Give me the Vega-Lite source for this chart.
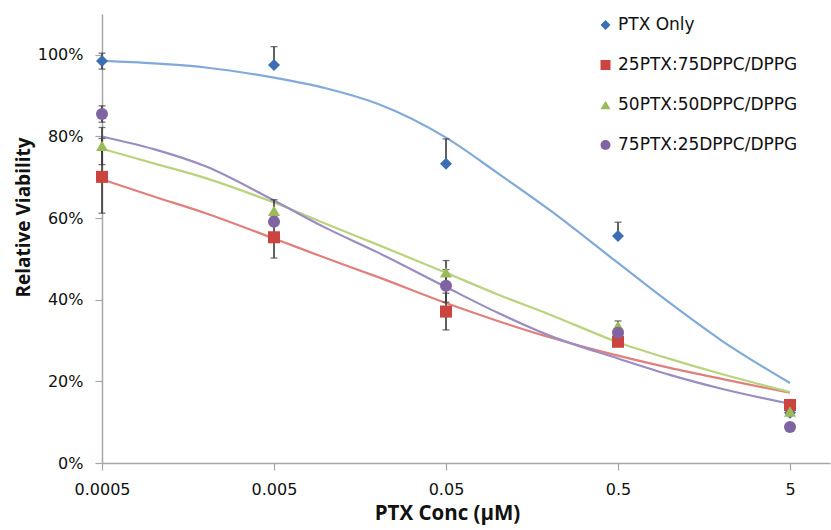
{
  "$schema": "https://vega.github.io/schema/vega-lite/v6.json",
  "width": 728,
  "height": 449,
  "autosize": "none",
  "padding": {"left": 102, "top": 14, "right": 1, "bottom": 67},
  "background": "white",
  "config": {
    "view": {"stroke": null},
    "font": "DejaVu Sans",
    "axis": {"grid": false, "domainColor": "#a6a6a6", "domainWidth": 1.5, "tickColor": "#a6a6a6", "tickWidth": 1.2, "tickSize": 7, "labelColor": "#111", "labelFontSize": 16, "labelFont": "DejaVu Sans", "titleFont": "Open Sans", "titleFontWeight": "bold", "titleColor": "#111"}
  },
  "datasets": {
    "pts": [
      {"series": "PTX Only", "conc": 0.0005, "v": 98.5},
      {"series": "PTX Only", "conc": 0.005, "v": 97.5},
      {"series": "PTX Only", "conc": 0.05, "v": 73.3},
      {"series": "PTX Only", "conc": 0.5, "v": 55.6},
      {"series": "PTX Only", "conc": 5, "v": 12.3},
      {"series": "25PTX:75DPPC/DPPG", "conc": 0.0005, "v": 70.1},
      {"series": "25PTX:75DPPC/DPPG", "conc": 0.005, "v": 55.3},
      {"series": "25PTX:75DPPC/DPPG", "conc": 0.05, "v": 37.1},
      {"series": "25PTX:75DPPC/DPPG", "conc": 0.5, "v": 29.7},
      {"series": "25PTX:75DPPC/DPPG", "conc": 5, "v": 14.2},
      {"series": "50PTX:50DPPC/DPPG", "conc": 0.0005, "v": 77.7},
      {"series": "50PTX:50DPPC/DPPG", "conc": 0.005, "v": 61.8},
      {"series": "50PTX:50DPPC/DPPG", "conc": 0.05, "v": 46.7},
      {"series": "50PTX:50DPPC/DPPG", "conc": 0.5, "v": 33.6},
      {"series": "50PTX:50DPPC/DPPG", "conc": 5, "v": 12.6},
      {"series": "75PTX:25DPPC/DPPG", "conc": 0.0005, "v": 85.5},
      {"series": "75PTX:25DPPC/DPPG", "conc": 0.005, "v": 59.1},
      {"series": "75PTX:25DPPC/DPPG", "conc": 0.05, "v": 43.4},
      {"series": "75PTX:25DPPC/DPPG", "conc": 0.5, "v": 31.9},
      {"series": "75PTX:25DPPC/DPPG", "conc": 5, "v": 8.8}
    ],
    "err": [
      {"series": "PTX Only", "conc": 0.0005, "lo": 96.5, "hi": 100.4},
      {"series": "PTX Only", "conc": 0.005, "lo": 97.5, "hi": 102},
      {"series": "PTX Only", "conc": 0.05, "lo": 73.3, "hi": 79.4},
      {"series": "PTX Only", "conc": 0.5, "lo": 55.6, "hi": 59},
      {"series": "25PTX:75DPPC/DPPG", "conc": 0.0005, "lo": 61.2, "hi": 79.5},
      {"series": "25PTX:75DPPC/DPPG", "conc": 0.005, "lo": 50.2, "hi": 60.4},
      {"series": "25PTX:75DPPC/DPPG", "conc": 0.05, "lo": 32.6, "hi": 41.6},
      {"series": "50PTX:50DPPC/DPPG", "conc": 0.0005, "lo": 73.1, "hi": 82.2},
      {"series": "50PTX:50DPPC/DPPG", "conc": 0.005, "lo": 59.1, "hi": 64.5},
      {"series": "50PTX:50DPPC/DPPG", "conc": 0.05, "lo": 43.8, "hi": 49.6},
      {"series": "50PTX:50DPPC/DPPG", "conc": 0.5, "lo": 32.4, "hi": 34.8},
      {"series": "75PTX:25DPPC/DPPG", "conc": 0.0005, "lo": 83.5, "hi": 87.5},
      {"series": "75PTX:25DPPC/DPPG", "conc": 0.05, "lo": 39.4, "hi": 47.4}
    ],
    "fit": [
      {"curve": "fit PTX Only", "conc": 0.0005, "f": 98.5},
      {"curve": "fit PTX Only", "conc": 0.001, "f": 97.9},
      {"curve": "fit PTX Only", "conc": 0.002, "f": 96.9},
      {"curve": "fit PTX Only", "conc": 0.005, "f": 94.4},
      {"curve": "fit PTX Only", "conc": 0.01, "f": 91.8},
      {"curve": "fit PTX Only", "conc": 0.02, "f": 88},
      {"curve": "fit PTX Only", "conc": 0.05, "f": 79.7},
      {"curve": "fit PTX Only", "conc": 0.1, "f": 71},
      {"curve": "fit PTX Only", "conc": 0.2, "f": 62},
      {"curve": "fit PTX Only", "conc": 0.5, "f": 49},
      {"curve": "fit PTX Only", "conc": 1, "f": 39.2},
      {"curve": "fit PTX Only", "conc": 2, "f": 30},
      {"curve": "fit PTX Only", "conc": 5, "f": 19.6},
      {"curve": "fit 25:75", "conc": 0.0005, "f": 69.5},
      {"curve": "fit 25:75", "conc": 0.001, "f": 65.3},
      {"curve": "fit 25:75", "conc": 0.002, "f": 61.2},
      {"curve": "fit 25:75", "conc": 0.005, "f": 55},
      {"curve": "fit 25:75", "conc": 0.01, "f": 50.2},
      {"curve": "fit 25:75", "conc": 0.02, "f": 45.6},
      {"curve": "fit 25:75", "conc": 0.05, "f": 39.2},
      {"curve": "fit 25:75", "conc": 0.1, "f": 34.8},
      {"curve": "fit 25:75", "conc": 0.2, "f": 30.8},
      {"curve": "fit 25:75", "conc": 0.5, "f": 26.3},
      {"curve": "fit 25:75", "conc": 1, "f": 23.3},
      {"curve": "fit 25:75", "conc": 2, "f": 20.6},
      {"curve": "fit 25:75", "conc": 5, "f": 17.2},
      {"curve": "fit 50:50", "conc": 0.0005, "f": 77},
      {"curve": "fit 50:50", "conc": 0.001, "f": 73.4},
      {"curve": "fit 50:50", "conc": 0.002, "f": 69.8},
      {"curve": "fit 50:50", "conc": 0.005, "f": 63.8},
      {"curve": "fit 50:50", "conc": 0.01, "f": 58.6},
      {"curve": "fit 50:50", "conc": 0.02, "f": 53.5},
      {"curve": "fit 50:50", "conc": 0.05, "f": 46.6},
      {"curve": "fit 50:50", "conc": 0.1, "f": 41.3},
      {"curve": "fit 50:50", "conc": 0.2, "f": 36.4},
      {"curve": "fit 50:50", "conc": 0.5, "f": 29.6},
      {"curve": "fit 50:50", "conc": 1, "f": 25.5},
      {"curve": "fit 50:50", "conc": 2, "f": 21.8},
      {"curve": "fit 50:50", "conc": 5, "f": 17.4},
      {"curve": "fit 75:25", "conc": 0.0005, "f": 80},
      {"curve": "fit 75:25", "conc": 0.001, "f": 76.9},
      {"curve": "fit 75:25", "conc": 0.002, "f": 72.7},
      {"curve": "fit 75:25", "conc": 0.005, "f": 64.3},
      {"curve": "fit 75:25", "conc": 0.01, "f": 57.6},
      {"curve": "fit 75:25", "conc": 0.02, "f": 51.6},
      {"curve": "fit 75:25", "conc": 0.05, "f": 43.1},
      {"curve": "fit 75:25", "conc": 0.1, "f": 36.8},
      {"curve": "fit 75:25", "conc": 0.2, "f": 31.2},
      {"curve": "fit 75:25", "conc": 0.5, "f": 25.6},
      {"curve": "fit 75:25", "conc": 1, "f": 21.6},
      {"curve": "fit 75:25", "conc": 2, "f": 18.2},
      {"curve": "fit 75:25", "conc": 5, "f": 14.5}
    ]
  },
  "layer": [
    {
      "data": {"name": "fit"},
      "mark": {"type": "line", "interpolate": "monotone", "strokeWidth": 2.2},
      "encoding": {
        "x": {"field": "conc", "type": "quantitative", "scale": {"type": "log", "domain": [0.0005, 8.54], "nice": false},
          "axis": {"values": [0.0005, 0.005, 0.05, 0.5, 5], "format": "~g", "labelPadding": 11, "title": "PTX Conc (µM)", "titleFontSize": 20.5, "titleX": 345, "titlePadding": 6, "labelFlush": false}},
        "y": {"field": "f", "type": "quantitative", "scale": {"domain": [0, 110], "nice": false},
          "axis": {"values": [0, 20, 40, 60, 80, 100], "labelExpr": "datum.value + '%'", "labelPadding": 12, "title": "Relative Viability", "titleFontSize": 19, "titleX": -79, "titleY": 203, "titleBaseline": "middle", "titleAlign": "center", "titleAngle": 270}},
        "detail": {"field": "curve"},
        "stroke": {"field": "curve", "type": "nominal", "legend": null,
          "scale": {"domain": ["fit PTX Only", "fit 25:75", "fit 50:50", "fit 75:25"], "range": ["#82aad8", "#e0807d", "#b8d47e", "#9b8cc2"]}}
      }
    },
    {
      "data": {"name": "err"},
      "mark": {"type": "errorbar", "ticks": {"size": 7, "color": "#3a3a3a", "thickness": 1.3}, "rule": {"color": "#3a3a3a", "strokeWidth": 1.6}},
      "encoding": {
        "x": {"field": "conc", "type": "quantitative", "title": "PTX Conc (µM)"},
        "y": {"field": "lo", "type": "quantitative", "title": "Relative Viability"},
        "y2": {"field": "hi"}
      }
    },
    {
      "data": {"name": "pts"},
      "mark": {"type": "point", "filled": true, "opacity": 1, "size": 145},
      "encoding": {
        "x": {"field": "conc", "type": "quantitative", "title": "PTX Conc (µM)"},
        "y": {"field": "v", "type": "quantitative", "title": "Relative Viability"},
        "color": {"field": "series", "type": "nominal",
          "scale": {"domain": ["PTX Only", "25PTX:75DPPC/DPPG", "50PTX:50DPPC/DPPG", "75PTX:25DPPC/DPPG"], "range": ["#3d6eb4", "#cb4440", "#9bbb59", "#8064a2"]},
          "legend": {"orient": "none", "legendX": 495, "legendY": 2.5, "padding": 0, "title": null, "labelFontSize": 17, "labelFont": "DejaVu Sans", "labelColor": "#111", "labelLimit": 0, "symbolSize": 100, "rowPadding": 22, "labelOffset": 4}},
        "shape": {"field": "series", "type": "nominal",
          "scale": {"domain": ["PTX Only", "25PTX:75DPPC/DPPG", "50PTX:50DPPC/DPPG", "75PTX:25DPPC/DPPG"], "range": ["diamond", "square", "triangle-up", "circle"]}}
      }
    }
  ]
}
